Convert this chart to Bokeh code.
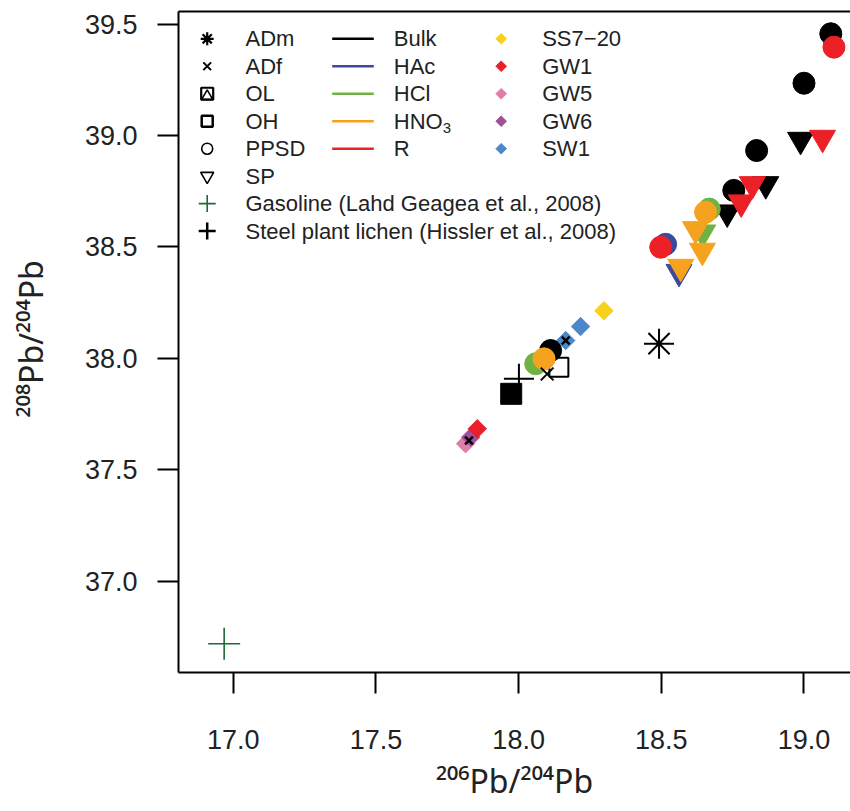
import math
from bokeh.plotting import figure
from bokeh.models import Range1d, FixedTicker, PrintfTickFormatter, LinearAxis, Title
from bokeh.core.properties import value
from bokeh.embed import file_html
from bokeh.resources import INLINE

FONT = "Liberation Sans"
TFONT = "Noto Sans"

# ---------------- data (206Pb/204Pb, 208Pb/204Pb) ----------------
# PPSD (filled circles)
ppsd_bulk_x = [19.094, 19.000, 18.834, 18.754, 18.112]
ppsd_bulk_y = [39.457, 39.235, 38.933, 38.754, 38.035]
ppsd_hac_x = [18.515]
ppsd_hac_y = [38.512]
ppsd_hcl_x = [18.668, 18.060]
ppsd_hcl_y = [38.670, 37.976]
ppsd_hno3_x = [18.655, 18.089]
ppsd_hno3_y = [38.656, 37.998]
ppsd_r_x = [19.105, 18.498]
ppsd_r_y = [39.397, 38.499]

# SP (filled down triangles)
sp_bulk_x = [18.988, 18.866, 18.731]
sp_bulk_y = [38.981, 38.782, 38.655]
sp_hac_x = [18.562]
sp_hac_y = [38.388]
sp_hcl_x = [18.645]
sp_hcl_y = [38.565]
sp_hno3_x = [18.620, 18.644, 18.568]
sp_hno3_y = [38.580, 38.483, 38.411]
sp_r_x = [19.065, 18.819, 18.780]
sp_r_y = [38.990, 38.782, 38.700]

# OH (filled square), OL (open square), ADf (x), ADm (asterisk) - Bulk
oh_bulk_x = [17.974]
oh_bulk_y = [37.841]
ol_bulk_x = [18.141]
ol_bulk_y = [37.960]
adf_bulk_x = [18.100]
adf_bulk_y = [37.930]
adf_small_x = [18.165, 17.826]
adf_small_y = [38.080, 37.631]
adm_bulk_x = [18.492]
adm_bulk_y = [38.066]

# water samples (diamonds)
ss7_x = [18.299]
ss7_y = [38.214]
sw1_x = [18.217, 18.165]
sw1_y = [38.143, 38.080]
gw5_x = [17.814]
gw5_y = [37.617]
gw6_x = [17.832]
gw6_y = [37.646]
gw1_x = [17.855]
gw1_y = [37.684]

# literature
gasoline_x = [16.968]
gasoline_y = [36.719]
steel_x = [18.001]
steel_y = [37.908]

x_ticks = [17.0, 17.5, 18.0, 18.5, 19.0]
y_ticks = [37.0, 37.5, 38.0, 38.5, 39.0, 39.5]

# colours
C_BULK = "#000000"
C_HAC = "#3b4a9c"
C_HCL = "#6fb443"
C_HNO3 = "#f5a31f"
C_R = "#ec2127"
C_SS7 = "#f6d21c"
C_GW1 = "#e9202b"
C_GW5 = "#df7eaa"
C_GW6 = "#a24f9a"
C_SW1 = "#4a88cb"
C_GAS = "#1d6b34"
TXT = "#222222"

# ---------------- figure ----------------
p = figure(frame_width=672, frame_height=661,
           min_border_left=178, min_border_right=0, min_border_top=11, min_border_bottom=139,
           x_range=Range1d(16.808, 19.163), y_range=Range1d(36.590, 39.557),
           output_backend="svg", toolbar_location=None)
p.outline_line_color = None
p.background_fill_color = "white"
p.border_fill_color = "white"
p.xgrid.visible = False
p.ygrid.visible = False

# pixel helper ranges (page coordinates) for the legend
p.extra_x_ranges = {"px": Range1d(178, 850)}
p.extra_y_ranges = {"py": Range1d(672, 11)}

for ax, ticks in ((p.xaxis, x_ticks), (p.yaxis, y_ticks)):
    ax.ticker = FixedTicker(ticks=ticks)
    ax.formatter = PrintfTickFormatter(format="%.1f")
    ax.axis_line_width = 2
    ax.axis_line_color = "black"
    ax.major_tick_line_width = 2
    ax.major_tick_out = 21
    ax.major_tick_in = 0
    ax.minor_tick_out = 0
    ax.minor_tick_in = 0
    ax.major_label_text_font = FONT
    ax.major_label_text_font_size = "27px"
    ax.major_label_text_color = TXT
p.yaxis.major_label_standoff = 20
p.xaxis.major_label_standoff = 36
p.xaxis.axis_label = "\u00b2\u2070\u2076Pb/\u00b2\u2070\u2074Pb"
p.xaxis.axis_label_text_font = TFONT
p.xaxis.axis_label_text_font_size = "32px"
p.xaxis.axis_label_text_font_style = "normal"
p.xaxis.axis_label_text_color = TXT
p.xaxis.axis_label_standoff = 7

# y title: second (blank) line keeps the title panel wide enough to sit further left
ytitle = Title(text="\u00b2\u2070\u2078Pb/\u00b2\u2070\u2074Pb\n\u00a0", align="left", vertical_align="top",
               offset=255, standoff=12, text_font=TFONT, text_font_size="32px", text_line_height=0.5,
               text_font_style="normal", text_color=TXT)
p.add_layout(ytitle, "left")

top_axis = LinearAxis(ticker=FixedTicker(ticks=[]), axis_line_width=2, axis_line_color="black",
                      major_tick_out=0, major_tick_in=0, minor_tick_out=0, minor_tick_in=0,
                      major_label_text_font_size="0px", major_label_standoff=0)
p.add_layout(top_axis, "above")

# ---------------- data marks ----------------
S_CIRC, S_TRI, S_DIA = 22, 26, 13

# diamonds (water)
for xs, ys, c in ((gw5_x, gw5_y, C_GW5), (gw6_x, gw6_y, C_GW6), (gw1_x, gw1_y, C_GW1),
                  (sw1_x, sw1_y, C_SW1), (ss7_x, ss7_y, C_SS7)):
    p.scatter(xs, ys, marker="square", angle=math.pi / 4, size=S_DIA,
              fill_color=c, line_color=c, line_width=1)

# bulk squares
p.scatter(oh_bulk_x, oh_bulk_y, marker="square", size=21, fill_color=C_BULK, line_color=C_BULK)
p.scatter(ol_bulk_x, ol_bulk_y, marker="square", size=19, fill_color=None, line_color=C_BULK, line_width=2)

# circles and triangles by extraction
groups = [
    (ppsd_bulk_x, ppsd_bulk_y, sp_bulk_x, sp_bulk_y, C_BULK),
    (ppsd_hac_x, ppsd_hac_y, sp_hac_x, sp_hac_y, C_HAC),
    (ppsd_hcl_x, ppsd_hcl_y, sp_hcl_x, sp_hcl_y, C_HCL),
    (ppsd_hno3_x, ppsd_hno3_y, sp_hno3_x, sp_hno3_y, C_HNO3),
    (ppsd_r_x, ppsd_r_y, sp_r_x, sp_r_y, C_R),
]
for cx, cy, tx, ty, c in groups:
    p.scatter(tx, ty, marker="inverted_triangle", size=S_TRI, fill_color=c, line_color=c, line_width=1)
    p.scatter(cx, cy, marker="circle", size=S_CIRC, fill_color=c, line_color=c, line_width=1)

p.scatter(adf_bulk_x, adf_bulk_y, marker="x", size=18, line_color=C_BULK, line_width=2)
p.scatter(adf_small_x, adf_small_y, marker="x", size=11, line_color=C_BULK, line_width=2.5)
p.scatter(adm_bulk_x, adm_bulk_y, marker="asterisk", size=30, line_color=C_BULK, line_width=2)
p.scatter(steel_x, steel_y, marker="cross", size=30, line_color=C_BULK, line_width=2)
p.scatter(gasoline_x, gasoline_y, marker="cross", size=32, line_color=C_GAS, line_width=1.6)

# ---------------- legend (drawn in page pixel coordinates) ----------------
PX = dict(x_range_name="px", y_range_name="py")
row0, step = 38.3, 27.47
rows = [row0 + step * k for k in range(8)]
c1x, c1t = 206.7, 245.0
c2a, c2b, c2t = 331.7, 373.3, 393.3
c3x, c3t = 500.7, 541.7

col1_labels = ["ADm", "ADf", "OL", "OH", "PPSD", "SP",
               "Gasoline (Lahd Geagea et al., 2008)", "Steel plant lichen (Hissler et al., 2008)"]
col2_labels = ["Bulk", "HAc", "HCl", "HNO", "R"]
col2_colors = [C_BULK, C_HAC, C_HCL, C_HNO3, C_R]
col3_labels = ["SS7\u221220", "GW1", "GW5", "GW6", "SW1"]
col3_colors = [C_SS7, C_GW1, C_GW5, C_GW6, C_SW1]

p.scatter([c1x], [rows[0]], marker="asterisk", size=13, line_color="black", line_width=2.2, **PX)
p.scatter([c1x], [rows[1]], marker="x", size=11, line_color="black", line_width=2, **PX)
p.scatter([c1x], [rows[2]], marker="square", size=12, fill_color=None, line_color="black", line_width=2.2, **PX)
p.scatter([c1x], [rows[2] + 2.5], marker="triangle", size=11, fill_color=None, line_color="black", line_width=1.6, **PX)
p.scatter([c1x], [rows[3]], marker="square", size=11, fill_color=None, line_color="black", line_width=2.5, **PX)
p.scatter([c1x], [rows[4]], marker="circle", size=11, fill_color=None, line_color="black", line_width=1.6, **PX)
p.scatter([c1x], [rows[5]], marker="inverted_triangle", size=13, fill_color=None, line_color="black", line_width=1.6, **PX)
p.scatter([c1x], [rows[6]], marker="cross", size=17, line_color=C_GAS, line_width=1.6, **PX)
p.scatter([c1x], [rows[7]], marker="cross", size=17, line_color="black", line_width=2.5, **PX)

p.text([c1t] * 8, rows, text=col1_labels, text_font=value(FONT), text_font_size="22px",
       text_baseline="middle", text_align="left", text_color=TXT, **PX)

p.segment([c2a] * 5, rows[:5], [c2b] * 5, rows[:5], line_color=col2_colors, line_width=2.5, **PX)
p.text([c2t] * 5, rows[:5], text=col2_labels, text_font=value(FONT), text_font_size="22px",
       text_baseline="middle", text_align="left", text_color=TXT, **PX)
# subscript of HNO3
p.text([c2t + 48.9], [rows[3] + 7], text=["3"], text_font=value(FONT), text_font_size="15px",
       text_baseline="middle", text_align="left", text_color=TXT, **PX)

p.scatter([c3x] * 5, rows[:5], marker="square", angle=math.pi / 4, size=7.5,
          fill_color=col3_colors, line_color=col3_colors, **PX)
p.text([c3t] * 5, rows[:5], text=col3_labels, text_font=value(FONT), text_font_size="22px",
       text_baseline="middle", text_align="left", text_color=TXT, **PX)

open("out.html", "w").write(file_html(p, INLINE))
